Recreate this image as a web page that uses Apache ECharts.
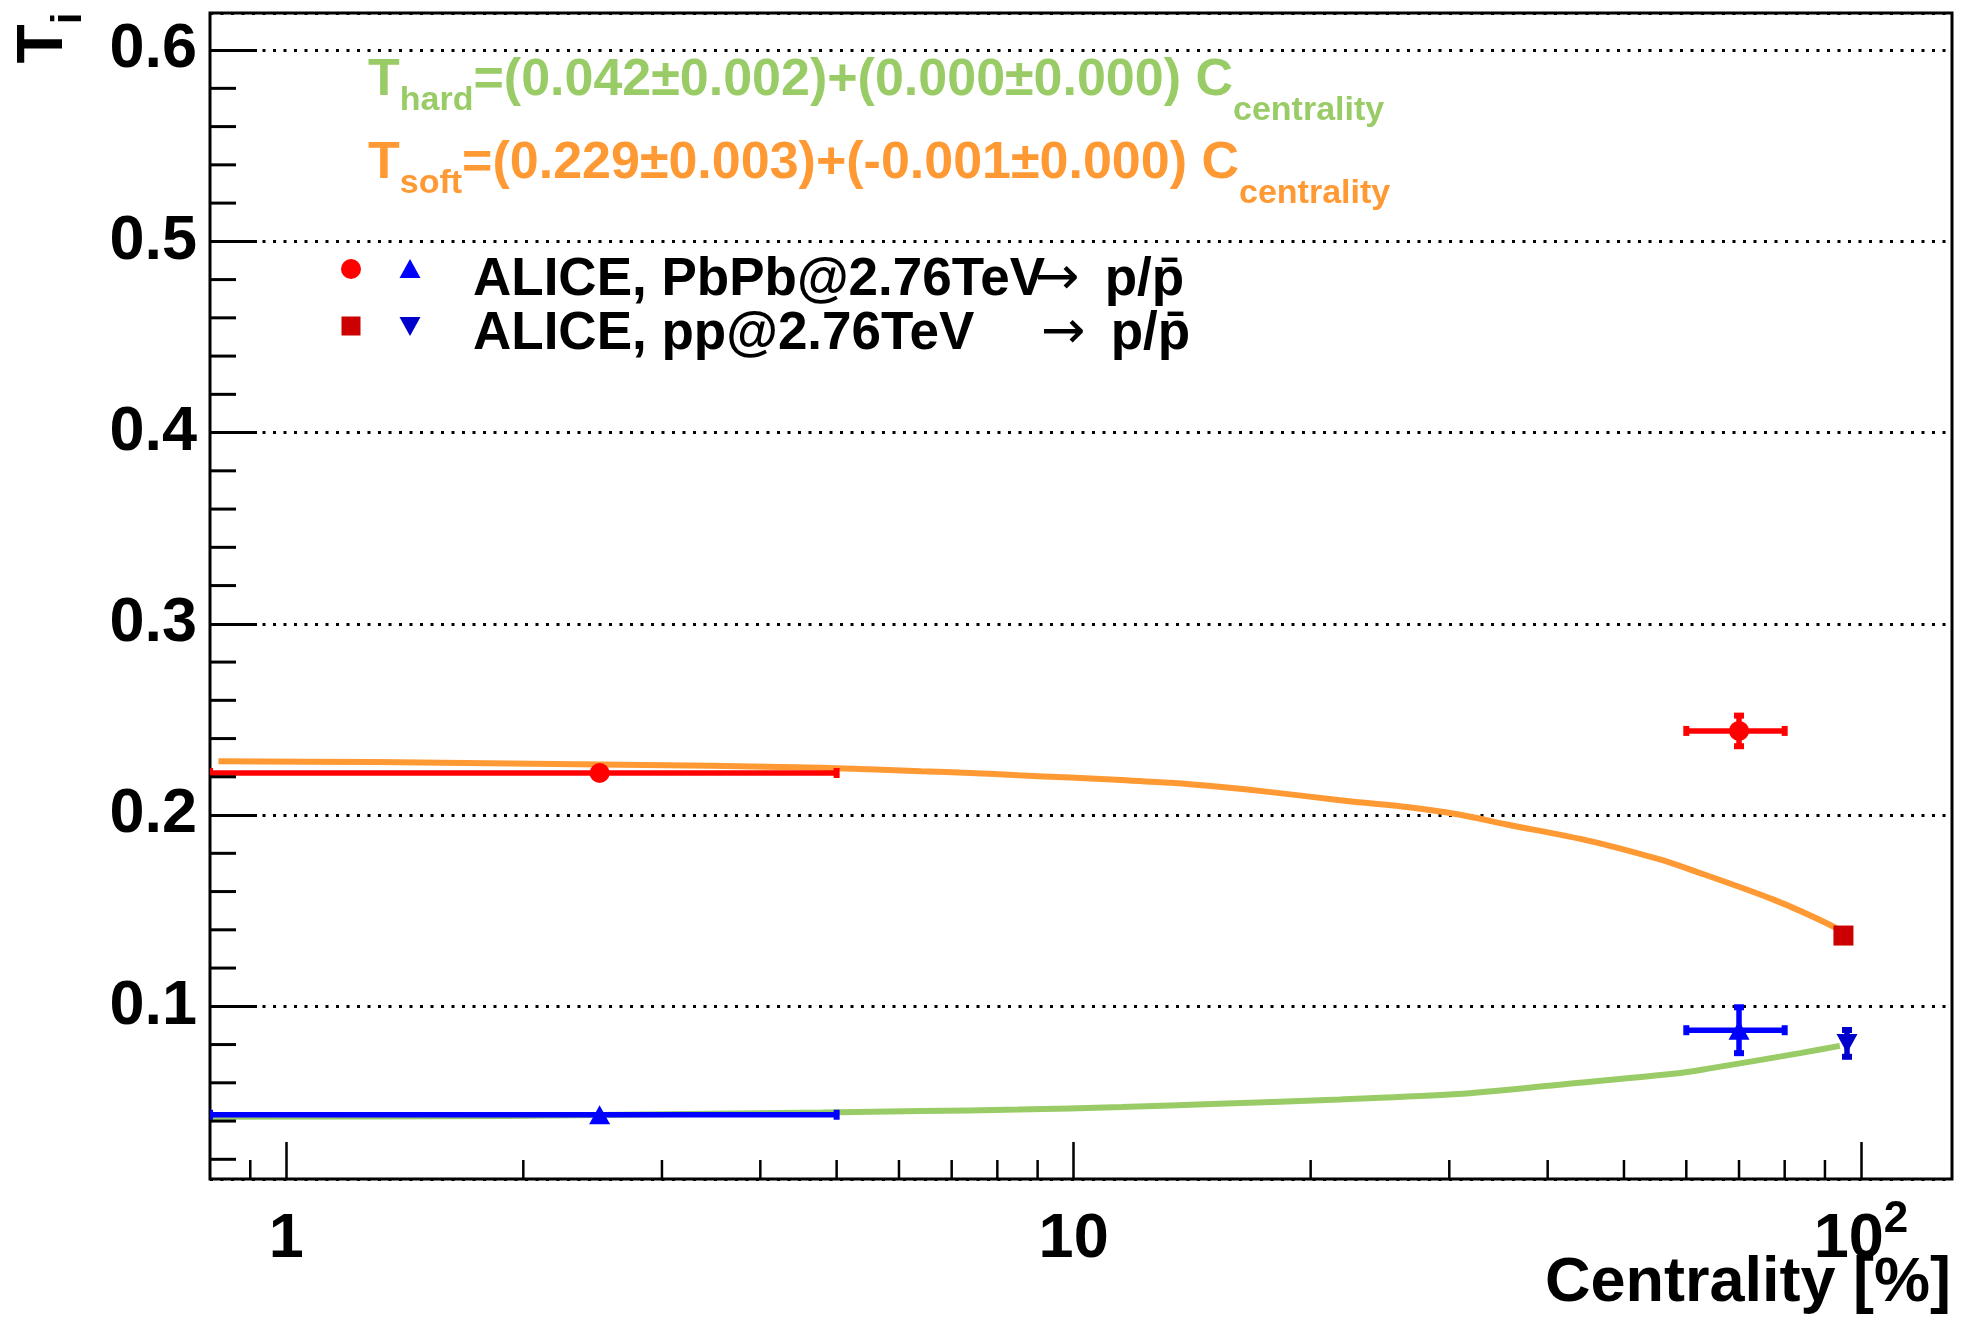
<!DOCTYPE html>
<html>
<head>
<meta charset="utf-8">
<script src="https://cdn.jsdelivr.net/npm/echarts@6/dist/echarts.min.js"></script>
<style>
  html, body { margin: 0; padding: 0; background: #fff; }
  #chart { width: 1971px; height: 1319px; }
</style>
</head>
<body>
<div id="chart"></div>
<script>
// frame range
const xRange = [0.8, 130.5];
const yRange = [0.0097, 0.6194];

const xTickValues = [1, 10, 100];
const xTickLabels = ['1', '10', '10^2'];
const xMinorTicks = [0.9, 2, 3, 4, 5, 6, 7, 8, 9, 20, 30, 40, 50, 60, 70, 80, 90];
const yTickValues = [0.1, 0.2, 0.3, 0.4, 0.5, 0.6];
const yTickLabels = ['0.1', '0.2', '0.3', '0.4', '0.5', '0.6'];
const yMinorTicks = [0.02, 0.04, 0.06, 0.08, 0.12, 0.14, 0.16, 0.18, 0.22, 0.24, 0.26, 0.28,
  0.32, 0.34, 0.36, 0.38, 0.42, 0.44, 0.46, 0.48, 0.52, 0.54, 0.56, 0.58];

// points: [centrality, T, centrality low, centrality high, T error]
const pbpbSoft = [[2.5, 0.222, 0, 5, 0], [70, 0.244, 60, 80, 0.008]];
const pbpbHard = [[2.5, 0.0433, 0, 5, 0], [70, 0.0875, 60, 80, 0.012]];
const ppSoft = [[95, 0.137, 95, 95, 0]];
const ppHard = [[96, 0.0806, 96, 96, 0.007]];

// fit curves
const softFitC = [0.82, 1.3, 2.5, 4.8, 5.5, 6.4, 7.4, 8.5, 9.9, 11.5, 13.3, 15.3, 17.8, 21.8,
  26.5, 30.7, 35.5, 45.3, 55.1, 60.6, 77.3, 92.1, 95];
const softFitT = [0.2282, 0.2277, 0.2265, 0.2248, 0.2239, 0.2229, 0.2220, 0.2208, 0.2196, 0.2183,
  0.2169, 0.2148, 0.2120, 0.2078, 0.2042, 0.2004, 0.1951, 0.1864, 0.1772, 0.1716, 0.1559, 0.1419, 0.1380];
const hardFitC = [0.8, 1.9, 4.8, 6.4, 8.5, 11.5, 15.3, 21.8, 30.7, 41.1, 57.7, 63.7, 83.7, 94];
const hardFitT = [0.0422, 0.0427, 0.0445, 0.0452, 0.0460, 0.0473, 0.0490, 0.0513, 0.0541,
  0.0589, 0.0647, 0.0673, 0.0755, 0.0793];

const FONT = '"Liberation Sans", Arial, Helvetica, sans-serif';
const GREEN = '#99cc66';
const ORANGE = '#ff9933';

const chart = echarts.init(document.getElementById('chart'));

function labelFor(values, labels, v, log) {
  for (let i = 0; i < values.length; i++) {
    const d = log ? Math.abs(Math.log10(v) - Math.log10(values[i])) : Math.abs(v - values[i]);
    if (d < 1e-6) return labels[i];
  }
  return '';
}

function errorBars(color) {
  return function (params, api) {
    const c = api.value(0), t = api.value(1);
    const lo = Math.max(api.value(2), xRange[0]);
    const hi = api.value(3), e = api.value(4);
    const mid = api.coord([c, t]);
    const fill = { fill: color };
    const stroke = { stroke: color, lineWidth: 5.5 };
    const children = [];
    if (hi > lo) {
      const l = api.coord([lo, t])[0], r = api.coord([hi, t])[0];
      children.push({ type: 'line', shape: { x1: l, y1: mid[1], x2: r, y2: mid[1] }, style: stroke });
      children.push({ type: 'rect', shape: { x: l - 3, y: mid[1] - 5, width: 6, height: 10 }, style: fill });
      children.push({ type: 'rect', shape: { x: r - 3, y: mid[1] - 5, width: 6, height: 10 }, style: fill });
    }
    if (e > 0) {
      const top = api.coord([c, t + e])[1], bot = api.coord([c, t - e])[1];
      children.push({ type: 'line', shape: { x1: mid[0], y1: top, x2: mid[0], y2: bot }, style: stroke });
      children.push({ type: 'rect', shape: { x: mid[0] - 5, y: top - 3, width: 10, height: 6 }, style: fill });
      children.push({ type: 'rect', shape: { x: mid[0] - 5, y: bot - 3, width: 10, height: 6 }, style: fill });
    }
    return { type: 'group', children };
  };
}

const minorTickData = yMinorTicks.map(v => [xRange[0], v, 0])
  .concat(xMinorTicks.map(v => [v, yRange[0], 1]));

const formulaRich = (color) => ({
  m: { fontSize: 52, fontWeight: 'bold', fontFamily: FONT, fill: color, verticalAlign: 'bottom', padding: [0, 0, 21, 0] },
  s: { fontSize: 34, fontWeight: 'bold', fontFamily: FONT, fill: color, verticalAlign: 'bottom', padding: [0, 0, 10, 0] },
  c: { fontSize: 34, fontWeight: 'bold', fontFamily: FONT, fill: color, verticalAlign: 'bottom', padding: [0, 0, 0, 0] }
});

const legendRich = {
  a: { fontSize: 53, fontFamily: '"DejaVu Sans", ' + FONT, fill: '#000' },
  p: { fontSize: 53, fontWeight: 'bold', fontFamily: FONT, fill: '#000' }
};

function txt(x, y, text) {
  return {
    type: 'text', x, y, z: 10,
    style: {
      text, font: 'bold 53px ' + FONT, fill: '#000', rich: legendRich,
      align: 'left', textAlign: 'left', verticalAlign: 'middle', textVerticalAlign: 'middle'
    }
  };
}

chart.setOption({
  animation: false,
  backgroundColor: '#fff',
  grid: { left: 210, top: 13, right: 19, bottom: 140, show: true, borderColor: '#000', borderWidth: 3, backgroundColor: 'transparent' },
  xAxis: {
    type: 'log',
    logBase: 10,
    min: xRange[0],
    max: xRange[1],
    axisLine: { show: false },
    axisTick: { show: true, inside: true, length: 37, lineStyle: { color: '#000', width: 2.5 } },
    splitLine: { show: false },
    axisLabel: {
      margin: 19,
      color: '#000',
      showMinLabel: false,
      showMaxLabel: false,
      formatter: v => {
        const s = labelFor(xTickValues, xTickLabels, v, true);
        if (!s) return '';
        const p = s.split('^');
        return p.length > 1 ? '{n|' + p[0] + '}{e|' + p[1] + '}' : '{n|' + s + '}';
      },
      rich: {
        n: { fontSize: 63, fontWeight: 'bold', fontFamily: FONT, color: '#000', padding: [10, 0, 0, 0] },
        e: { fontSize: 44, fontWeight: 'bold', fontFamily: FONT, color: '#000', verticalAlign: 'top' }
      }
    }
  },
  yAxis: {
    type: 'value',
    min: yRange[0],
    max: yRange[1],
    splitNumber: 6,
    axisLine: { show: false },
    axisTick: { show: true, inside: true, length: 47, lineStyle: { color: '#000', width: 3 } },
    splitLine: { show: true, lineStyle: { color: '#000', width: 3, type: [3, 7.5] } },
    axisLabel: {
      margin: 13,
      color: '#000',
      fontSize: 63,
      fontWeight: 'bold',
      fontFamily: FONT,
      showMinLabel: false,
      showMaxLabel: false,
      formatter: v => labelFor(yTickValues, yTickLabels, v, false)
    }
  },
  series: [
    {
      type: 'line', name: 'hard fit', z: 2, symbol: 'none', smooth: 0.3,
      lineStyle: { color: GREEN, width: 6 },
      data: hardFitC.map((c, i) => [c, hardFitT[i]])
    },
    {
      type: 'line', name: 'soft fit', z: 2, symbol: 'none', smooth: 0.3,
      lineStyle: { color: ORANGE, width: 6 },
      data: softFitC.map((c, i) => [c, softFitT[i]])
    },
    { type: 'custom', z: 3, clip: true, renderItem: errorBars('#ff0000'), data: pbpbSoft },
    { type: 'custom', z: 3, clip: true, renderItem: errorBars('#0000ff'), data: pbpbHard },
    { type: 'custom', z: 3, clip: true, renderItem: errorBars('#cc0000'), data: ppSoft },
    { type: 'custom', z: 3, clip: true, renderItem: errorBars('#0000cc'), data: ppHard },
    {
      type: 'scatter', z: 4, symbol: 'circle', symbolSize: 20,
      itemStyle: { color: '#ff0000', opacity: 1 }, data: pbpbSoft.map(d => [d[0], d[1]])
    },
    {
      type: 'scatter', z: 4, symbol: 'triangle', symbolSize: [21, 19],
      itemStyle: { color: '#0000ff', opacity: 1 }, data: pbpbHard.map(d => [d[0], d[1]])
    },
    {
      type: 'scatter', z: 4, symbol: 'rect', symbolSize: 20,
      itemStyle: { color: '#cc0000', opacity: 1 }, data: ppSoft.map(d => [d[0], d[1]])
    },
    {
      type: 'scatter', z: 4, symbol: 'triangle', symbolRotate: 180, symbolSize: [21, 19],
      itemStyle: { color: '#0000cc', opacity: 1 }, data: ppHard.map(d => [d[0], d[1]])
    },
    {
      type: 'custom', z: 5, clip: false, silent: true,
      data: minorTickData,
      renderItem: (params, api) => {
        const p = api.coord([api.value(0), api.value(1)]);
        const horiz = api.value(2) === 0;
        return {
          type: 'line',
          shape: horiz ? { x1: p[0], y1: p[1], x2: p[0] + 26, y2: p[1] } : { x1: p[0], y1: p[1], x2: p[0], y2: p[1] - 19 },
          style: { stroke: '#000', lineWidth: horiz ? 3 : 2.5 }
        };
      }
    }
  ],
  graphic: [
    // y axis title
    {
      type: 'text', x: 51, y: 38, rotation: Math.PI / 2, z: 10,
      style: {
        text: '{t|T}{i|i}',
        align: 'center', textAlign: 'center', verticalAlign: 'middle', textVerticalAlign: 'middle',
        rich: {
          t: { fontSize: 64, fontWeight: 'bold', fontFamily: FONT, fill: '#000', verticalAlign: 'bottom', padding: [0, 0, 14, 0] },
          i: { fontSize: 42, fontWeight: 'bold', fontFamily: FONT, fill: '#000', verticalAlign: 'bottom' }
        }
      }
    },
    // x axis title
    {
      type: 'text', x: 1951, y: 1252, z: 10,
      style: { text: 'Centrality [%]', font: 'bold 63px ' + FONT, fill: '#000', align: 'right', textAlign: 'right', verticalAlign: 'top', textVerticalAlign: 'top' }
    },
    // fit formulas
    {
      type: 'text', x: 368, y: 55, z: 10,
      style: {
        text: '{m|T}{s|hard}{m|=(0.042±0.002)+(0.000±0.000) C}{c|centrality}',
        fill: GREEN, verticalAlign: 'top', textVerticalAlign: 'top', rich: formulaRich(GREEN)
      }
    },
    {
      type: 'text', x: 368, y: 138, z: 10,
      style: {
        text: '{m|T}{s|soft}{m|=(0.229±0.003)+(-0.001±0.000) C}{c|centrality}',
        fill: ORANGE, verticalAlign: 'top', textVerticalAlign: 'top', rich: formulaRich(ORANGE)
      }
    },
    // legend
    { type: 'circle', z: 10, shape: { cx: 351, cy: 269, r: 10 }, style: { fill: '#ff0000' } },
    { type: 'polygon', z: 10, shape: { points: [[410, 259], [399.5, 278], [420.5, 278]] }, style: { fill: '#0000ff' } },
    { type: 'rect', z: 10, shape: { x: 341.5, y: 316.5, width: 19, height: 19 }, style: { fill: '#cc0000' } },
    { type: 'polygon', z: 10, shape: { points: [[399.5, 317], [420.5, 317], [410, 336]] }, style: { fill: '#0000cc' } },
    txt(473, 280, '{p|ALICE, PbPb@2.76TeV}'),
    txt(1035, 280, '{a|\u2192}{p| \u2009p/p\u0304}'),
    txt(473, 334, '{p|ALICE, pp@2.76TeV}'),
    txt(1041, 334, '{a|\u2192}{p| \u2009p/p\u0304}')
  ]
});
</script>
</body>
</html>
